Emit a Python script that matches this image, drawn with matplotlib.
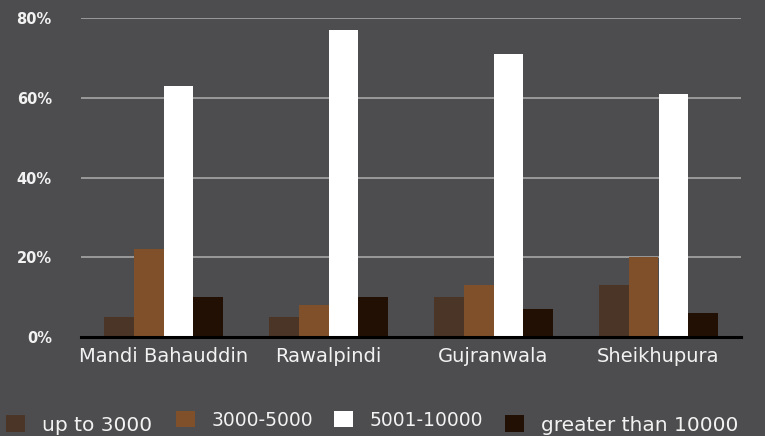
import matplotlib
matplotlib.use("Agg")
import matplotlib.pyplot as plt
import numpy as np

categories = ["Mandi Bahauddin", "Rawalpindi", "Gujranwala", "Sheikhupura"]
series_names = ["up to 3000", "3000-5000", "5001-10000", "greater than 10000"]
up_to_3000 = [5, 5, 10, 13]
s3000_5000 = [22, 8, 13, 20]
s5001_10000 = [63, 77, 71, 61]
greater_10000 = [10, 10, 7, 6]
yticks = [0, 20, 40, 60, 80]
ytick_labels = ["0%", "20%", "40%", "60%", "80%"]

colors = ["#4a3526", "#80502b", "#ffffff", "#231005"]
bg = "#4d4d4f"
txt = "#f2f2f2"

plt.rcParams['font.family'] = ['DejaVu Sans']

fig = plt.figure(figsize=(7.65, 4.36), dpi=100, facecolor=bg)
ax = fig.add_axes([81/765, 1-337/436, 660/765, 319/436])
ax.set_facecolor(bg)

x = np.arange(len(categories))
w = 0.179
series = [up_to_3000, s3000_5000, s5001_10000, greater_10000]
handles = []
for i, (vals, c, name) in enumerate(zip(series, colors, series_names)):
    b = ax.bar(x + (i - 1.5) * w, vals, w, color=c, label=name, zorder=3, linewidth=0)
    handles.append(b)

ax.set_xlim(-0.5, 3.5)
ax.set_ylim(0, 80)
ax.set_yticks(yticks)
ax.set_yticklabels(ytick_labels, fontsize=10.5, fontweight='bold', color=txt)
ax.set_xticks(x)
ax.set_xticklabels(categories, fontsize=14, color=txt)
ax.tick_params(axis='both', length=0)
ax.tick_params(axis='y', pad=21)
ax.tick_params(axis='x', pad=7)
ax.yaxis.grid(True, color="#9a9a9a", linewidth=1.4, zorder=0)
ax.set_axisbelow(True)
for s in ["top", "right", "left"]:
    ax.spines[s].set_visible(False)
ax.spines["bottom"].set_color("black")
ax.spines["bottom"].set_linewidth(2.2)
ax.spines["bottom"].set_zorder(4)

# legend: one entry per series, each placed on its own (matching reference layout)
leg_x_px = [6, 176, 334, 505]
leg_cy_px = [425, 420, 420, 425]
leg_fs = [14.5, 13.5, 13.5, 14.5]
for h, name, lx, cy, fs in zip(handles, series_names, leg_x_px, leg_cy_px, leg_fs):
    fs_px = fs * 100 / 72
    lg = fig.legend(handles=[h], labels=[name], loc='center left',
                    bbox_to_anchor=(lx / 765, 1 - cy / 436),
                    frameon=False, fontsize=fs, borderpad=0, borderaxespad=0,
                    handlelength=19 / fs_px, handleheight=18 / fs_px,
                    handletextpad=17 / fs_px)
    for t in lg.get_texts():
        t.set_color(txt)

fig.savefig("out.png", dpi=100, facecolor=bg)
